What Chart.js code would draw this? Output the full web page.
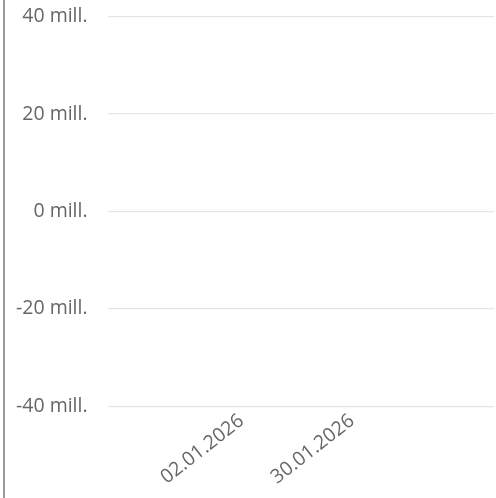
<!DOCTYPE html>
<html>
<head>
<meta charset="utf-8">
<script src="https://cdn.jsdelivr.net/npm/chart.js@4/dist/chart.umd.min.js"></script>
<style>
    html, body { margin: 0; padding: 0; background: #fff; overflow: hidden; }
    .panel {
        position: absolute; left: 3px; top: 0;
        width: 493px; height: 498px;
        box-sizing: border-box;
        border-left: 2px solid #9a9a9a;
        overflow: hidden;
    }
    .plot {
        position: absolute; left: -19px; top: -15px;
        width: 513px; height: 515px;
    }
    .plot canvas { display: block; }
</style>
</head>
<body>
<div class="panel"><div class="plot"><canvas id="flowChart"></canvas></div></div>
<script>
// Period shown on the time axis
const periodStart = '29.11.2025';
const periodEnd = '07.03.2026';

// Report dates that carry a tick label
const reportDates = ['02.01.2026', '30.01.2026'];

// Net flow per report date, NOK - no registered values yet
const netFlow = [null, null];

// Value axis
const yMin = -40e6;
const yMax = 40e6;
const yStep = 20e6;

const toTime = s => {
    const [d, m, y] = s.split('.').map(Number);
    return Date.UTC(y, m - 1, d);
};
const pad = n => String(n).padStart(2, '0');
const fmtDate = t => {
    const d = new Date(t);
    return pad(d.getUTCDate()) + '.' + pad(d.getUTCMonth() + 1) + '.' + d.getUTCFullYear();
};

const font = { family: '"Open Sans", sans-serif', size: 19.5 };
const textColor = '#666666';

new Chart(document.getElementById('flowChart').getContext('2d'), {
    type: 'line',
    data: {
        datasets: [{
            label: 'Netto',
            data: reportDates.map((d, i) => ({ x: toTime(d), y: netFlow[i] })),
            borderColor: '#2f6eb5',
            backgroundColor: '#2f6eb5'
        }]
    },
    options: {
        responsive: true,
        maintainAspectRatio: false,
        animation: false,
        layout: { padding: { left: 10, top: 4, right: 0, bottom: 8 } },
        plugins: {
            legend: { display: false },
            tooltip: { enabled: false }
        },
        scales: {
            x: {
                type: 'linear',
                min: toTime(periodStart),
                max: toTime(periodEnd),
                grid: { display: false, drawTicks: false },
                border: { display: false },
                afterBuildTicks(scale) {
                    scale.ticks = reportDates.map(d => ({ value: toTime(d) }));
                },
                ticks: {
                    autoSkip: false,
                    minRotation: 38,
                    maxRotation: 38,
                    padding: 3,
                    color: textColor,
                    font: font,
                    callback: v => fmtDate(v)
                }
            },
            y: {
                min: yMin,
                max: yMax,
                grid: { color: '#e5e5e5', lineWidth: 1.3, drawTicks: false },
                border: { display: false },
                ticks: {
                    stepSize: yStep,
                    padding: 20,
                    color: textColor,
                    font: font,
                    callback: v => (v / 1e6) + ' mill.'
                }
            }
        }
    }
});
</script>
</body>
</html>
